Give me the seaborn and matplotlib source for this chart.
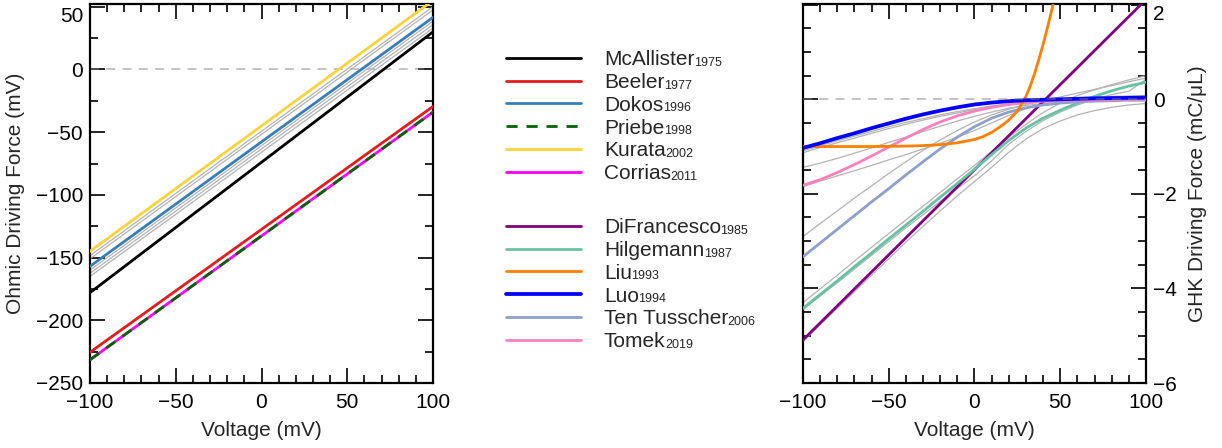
import matplotlib
matplotlib.use("Agg")
import matplotlib.pyplot as plt
import matplotlib.transforms as mtransforms
from matplotlib.ticker import MultipleLocator
import pandas as pd
import seaborn as sns

# ------------------------------------------------------------------ data
# Ohmic driving force (left panel): value at V = -100 mV and V = +100 mV
ohmic_voltage = [-100, 100]
ohmic_names = ["McAllister", "Beeler", "Dokos", "Priebe", "Kurata", "Corrias"]
ohmic_years = ["1975", "1977", "1996", "1998", "2002", "2011"]
ohmic_colors = ["#000000", "#e41a1c", "#377eb8", "#006400", "#f9d33a", "#ff00ff"]
mcallister = [-178.0, 30.0]
beeler = [-225.5, -29.5]
dokos = [-157.0, 41.5]
priebe = [-231.5, -34.0]
kurata = [-145.0, 55.0]
corrias = [-231.5, -34.0]
ohmic_other_1 = [-148.5, 50.0]
ohmic_other_2 = [-151.0, 47.5]
ohmic_other_3 = [-160.0, 38.5]
ohmic_other_4 = [-162.5, 35.8]
ohmic_other_5 = [-165.0, 33.0]

# GHK driving force (right panel)
ghk_voltage = [-100, -90, -80, -70, -60, -50, -40, -30, -20, -10, 0,
               10, 20, 30, 40, 50, 60, 70, 80, 90, 100]
ghk_names = ["DiFrancesco", "Hilgemann", "Liu", "Luo", "Ten Tusscher", "Tomek"]
ghk_years = ["1985", "1987", "1993", "1994", "2006", "2019"]
ghk_colors = ["#800080", "#66c2a5", "#ff7f00", "#0000ff", "#8da0cb", "#f781bf"]
difrancesco = [-5.09, -4.73, -4.37, -4.01, -3.65, -3.29, -2.93, -2.57, -2.21, -1.85, -1.49,
               -1.13, -0.77, -0.41, -0.05, 0.31, 0.67, 1.03, 1.39, 1.75, 2.11]
hilgemann = [-4.42, -4.13, -3.84, -3.54, -3.25, -2.95, -2.66, -2.37, -2.07, -1.78, -1.48,
             -1.17, -0.87, -0.61, -0.40, -0.23, -0.08, 0.06, 0.18, 0.28, 0.36]
liu_voltage = [-100, -80, -60, -40, -30, -20, -10, 0, 5, 10, 15, 20, 25,
               27.5, 30, 32.5, 35, 37.5, 40, 42.5, 45, 47.5]
liu = [-1.00, -1.00, -1.00, -0.99, -0.98, -0.96, -0.92, -0.85, -0.79, -0.70, -0.58, -0.44, -0.25,
       -0.10, 0.06, 0.28, 0.54, 0.84, 1.16, 1.51, 1.88, 2.30]
luo = [-1.03, -0.93, -0.82, -0.72, -0.61, -0.51, -0.41, -0.32, -0.24, -0.17, -0.11,
       -0.07, -0.04, -0.02, -0.01, 0.00, 0.01, 0.02, 0.025, 0.03, 0.035]
ten_tusscher = [-3.33, -3.04, -2.75, -2.46, -2.17, -1.89, -1.60, -1.32, -1.05, -0.80, -0.58,
                -0.40, -0.27, -0.18, -0.12, -0.08, -0.055, -0.04, -0.03, -0.02, -0.02]
tomek = [-1.82, -1.70, -1.55, -1.38, -1.20, -1.01, -0.82, -0.64, -0.48, -0.35, -0.25,
         -0.17, -0.11, -0.07, -0.04, -0.03, -0.02, -0.015, -0.01, -0.005, 0.0]
ghk_other_1 = [-1.09, -0.98, -0.88, -0.78, -0.68, -0.58, -0.49, -0.41, -0.33, -0.26, -0.20,
               -0.14, -0.10, -0.07, -0.05, -0.03, -0.02, -0.015, -0.01, -0.005, 0.0]
ghk_other_2 = [-1.13, -1.02, -0.92, -0.82, -0.72, -0.62, -0.53, -0.44, -0.36, -0.29, -0.22,
               -0.16, -0.12, -0.08, -0.06, -0.04, -0.03, -0.02, -0.01, -0.005, 0.0]
ghk_other_3 = [-1.44, -1.35, -1.25, -1.14, -1.03, -0.91, -0.80, -0.68, -0.57, -0.46, -0.36,
               -0.27, -0.19, -0.13, -0.09, -0.06, -0.04, -0.03, -0.02, -0.015, -0.01]
ghk_other_4 = [-1.85, -1.73, -1.62, -1.51, -1.40, -1.28, -1.17, -1.05, -0.93, -0.80, -0.66,
               -0.50, -0.34, -0.20, -0.09, -0.01, 0.03, 0.05, 0.06, 0.07, 0.08]
ghk_other_5 = [-2.90, -2.63, -2.36, -2.09, -1.83, -1.57, -1.32, -1.08, -0.86, -0.66, -0.48,
               -0.33, -0.21, -0.11, -0.03, 0.05, 0.13, 0.21, 0.29, 0.37, 0.45]
ghk_other_6 = [-4.30, -4.01, -3.72, -3.42, -3.13, -2.84, -2.55, -2.26, -1.97, -1.68, -1.40,
               -1.10, -0.80, -0.53, -0.28, -0.08, 0.08, 0.20, 0.31, 0.41, 0.50]
ghk_other_7 = [-5.12, -4.77, -4.42, -4.07, -3.72, -3.37, -3.02, -2.69, -2.36, -2.04, -1.74,
               -1.44, -1.12, -0.84, -0.62, -0.46, -0.33, -0.24, -0.17, -0.12, -0.09]
ghk_other_8 = [-4.45, -4.16, -3.88, -3.59, -3.30, -3.01, -2.72, -2.44, -2.16, -1.89, -1.62,
               -1.30, -0.95, -0.68, -0.45, -0.27, -0.12, 0.00, 0.10, 0.17, 0.42]

# ------------------------------------------------------------------ style
sns.set_theme(style="ticks")
plt.rcParams["font.family"] = ["Liberation Sans", "DejaVu Sans"]
plt.rcParams["axes.unicode_minus"] = True

W, H = 1222, 448
fig = plt.figure(figsize=(W / 100, H / 100), dpi=100)
ax1 = fig.add_axes([90 / W, 1 - 383 / H, 343 / W, 379 / H])
ax2 = fig.add_axes([803 / W, 1 - 383 / H, 343 / W, 379 / H])

GRAY = "#b3b3b3"
LW = 2.0
FS = 15

# ------------------------------------------------------------------ left panel
for vals in [ohmic_other_1, ohmic_other_2, ohmic_other_3, ohmic_other_4, ohmic_other_5]:
    sns.lineplot(x=ohmic_voltage, y=vals, ax=ax1, color=GRAY, lw=0.9, zorder=2)

ohmic_series = [mcallister, beeler, dokos, corrias, priebe, kurata]
ohmic_order = ["McAllister", "Beeler", "Dokos", "Corrias", "Priebe", "Kurata"]
handles1 = {}
for name, vals in zip(ohmic_order, ohmic_series):
    i = ohmic_names.index(name)
    kw = dict(color=ohmic_colors[i], lw=LW, zorder=3)
    if name == "Priebe":
        kw["linestyle"] = (0, (4, 3.2))
        kw["zorder"] = 4
    sns.lineplot(x=ohmic_voltage, y=vals, ax=ax1, **kw)
    handles1[name] = ax1.lines[-1]

ax1.axhline(0, color="gray", alpha=0.5, lw=1.3, ls=(0, (5, 4)), zorder=1)
ax1.set_xlim(-100, 100)
ax1.set_ylim(-250, 52.2)
ax1.xaxis.set_major_locator(MultipleLocator(50))
ax1.xaxis.set_minor_locator(MultipleLocator(10))
ax1.yaxis.set_major_locator(MultipleLocator(50))
ax1.yaxis.set_minor_locator(MultipleLocator(25))
ax1.set_xlabel("Voltage (mV)", fontsize=FS, labelpad=7)
ax1.set_ylabel("Ohmic Driving Force (mV)", fontsize=FS, labelpad=8)

# ------------------------------------------------------------------ right panel
for vals in [ghk_other_1, ghk_other_2, ghk_other_3, ghk_other_4, ghk_other_5,
             ghk_other_6, ghk_other_7, ghk_other_8]:
    sns.lineplot(x=ghk_voltage, y=vals, ax=ax2, color=GRAY, lw=0.9, zorder=2)

handles2 = {}
ghk_series = [difrancesco, hilgemann, ten_tusscher, tomek, liu, luo]
ghk_order = ["DiFrancesco", "Hilgemann", "Ten Tusscher", "Tomek", "Liu", "Luo"]
for name, vals in zip(ghk_order, ghk_series):
    i = ghk_names.index(name)
    xs = liu_voltage if name == "Liu" else ghk_voltage
    lw = 2.7 if name == "Luo" else LW
    sns.lineplot(x=xs, y=vals, ax=ax2, color=ghk_colors[i], lw=lw, zorder=3)
    handles2[name] = ax2.lines[-1]

ax2.axhline(0, color="gray", alpha=0.5, lw=1.3, ls=(0, (5, 4)), zorder=5)
ax2.set_xlim(-100, 100)
ax2.set_ylim(-6, 2.015)
ax2.xaxis.set_major_locator(MultipleLocator(50))
ax2.xaxis.set_minor_locator(MultipleLocator(10))
ax2.yaxis.set_major_locator(MultipleLocator(2))
ax2.yaxis.set_minor_locator(MultipleLocator(0.5))
ax2.yaxis.tick_right()
ax2.yaxis.set_label_position("right")
ax2.set_xlabel("Voltage (mV)", fontsize=FS, labelpad=7)
ax2.set_ylabel("GHK Driving Force (mC/μL)", fontsize=FS, labelpad=8)

for ax in (ax1, ax2):
    ax.tick_params(which="both", direction="in", top=True, bottom=True,
                   left=True, right=True, width=1.2, color="black",
                   labelsize=FS, labelcolor="black")
    ax.tick_params(which="major", length=11, pad=5)
    ax.tick_params(which="minor", length=5.5)
    ax.tick_params(axis="x", which="major", pad=7)
    for s in ax.spines.values():
        s.set_linewidth(1.6)
        s.set_color("black")
    ax.set_facecolor("white")
ax2.tick_params(labelleft=False, labelright=True)

# ------------------------------------------------------------------ legends
leg_kw = dict(loc="upper left", frameon=False, fontsize=FS, handlelength=3.6,
              handletextpad=1.1, labelspacing=0.185, borderpad=0, borderaxespad=0,
              bbox_transform=fig.transFigure)
leg1 = fig.legend(handles=[handles1[n] for n in ohmic_names], labels=ohmic_names,
                  bbox_to_anchor=(506 / W, 1 - 50 / H), **leg_kw)
leg2 = fig.legend(handles=[handles2[n] for n in ghk_names], labels=ghk_names,
                  bbox_to_anchor=(506 / W, 1 - 218 / H), **leg_kw)

fig.canvas.draw()
renderer = fig.canvas.get_renderer()

# push the top tick label inside the figure like the reference
for ax in (ax1, ax2):
    ticks = ax.get_yticks()
    step = ticks[1] - ticks[0]
    ymax = ax.get_ylim()[1]
    for t, loc in zip(ax.get_yticklabels(), ticks):
        if abs(loc - ymax) < step * 0.1:
            t.set_va("top")

for leg, years in ((leg1, ohmic_years), (leg2, ghk_years)):
    for t, yr in zip(leg.get_texts(), years):
        bb = t.get_window_extent(renderer)
        fig.text(bb.x1 - 0.5, bb.y0 + 0.3, yr, fontsize=9, ha="left", va="bottom",
                 transform=mtransforms.IdentityTransform())

fig.savefig("out.png", dpi=100, facecolor="white")
